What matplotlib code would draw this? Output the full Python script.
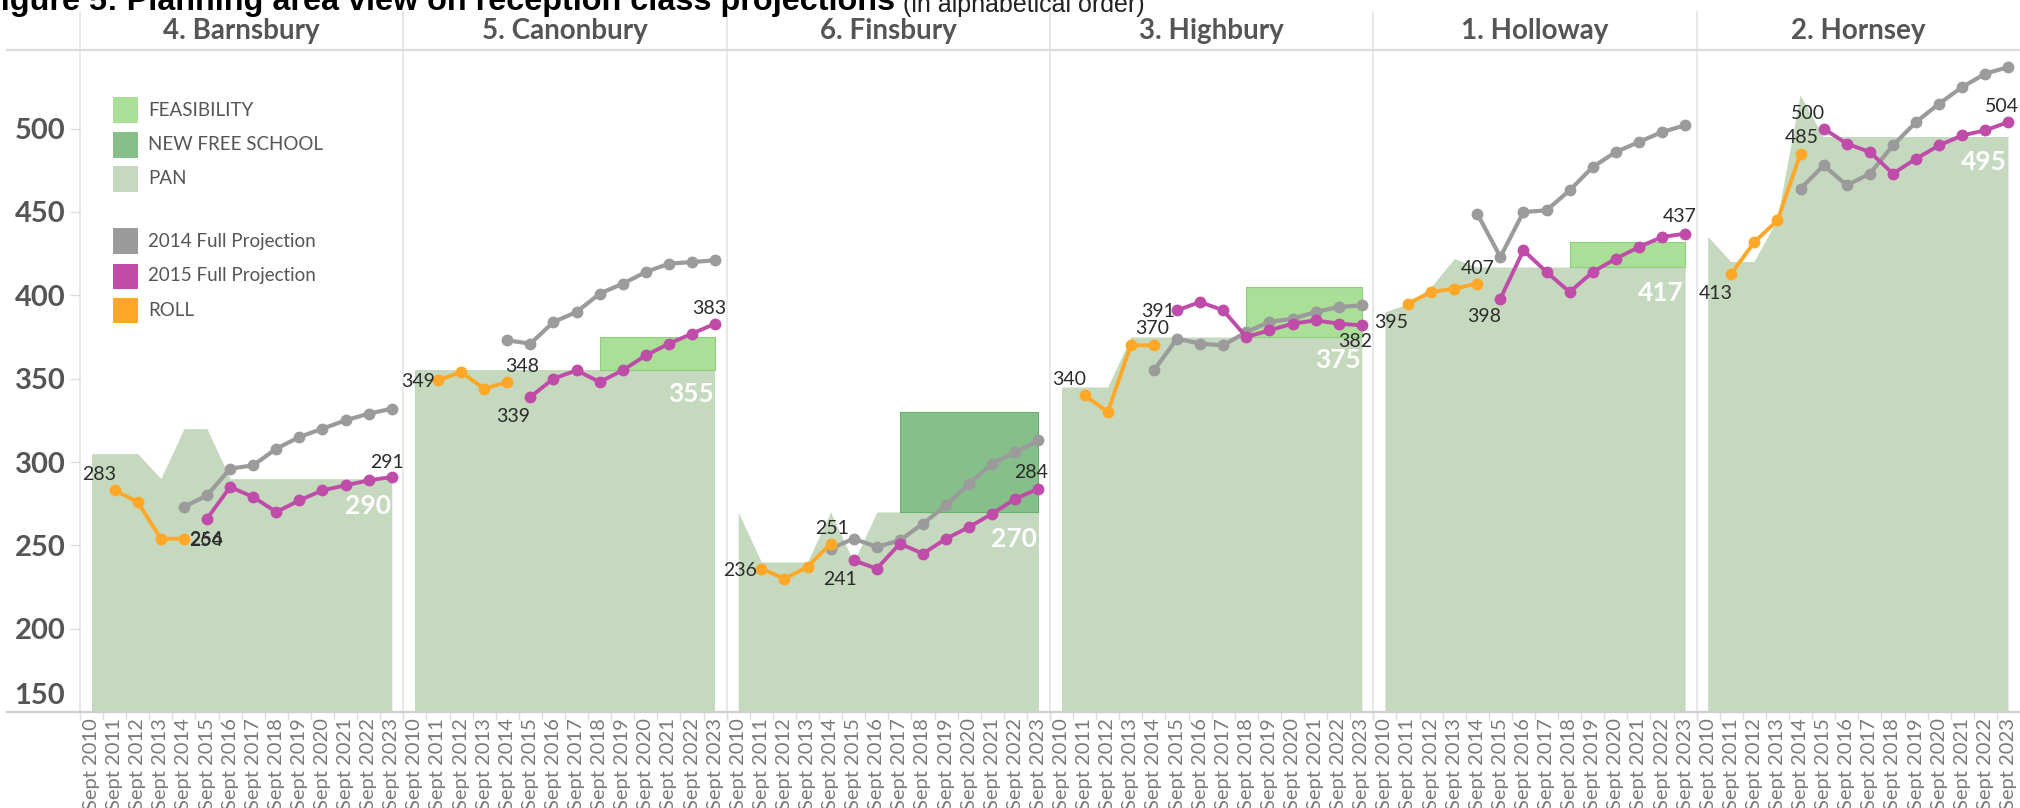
import numpy as np
import matplotlib
matplotlib.use('Agg')
import matplotlib.pyplot as plt
from matplotlib.patches import Rectangle
from matplotlib.lines import Line2D

# ---------------- data ----------------
years = ['Sept 2010', 'Sept 2011', 'Sept 2012', 'Sept 2013', 'Sept 2014', 'Sept 2015', 'Sept 2016',
         'Sept 2017', 'Sept 2018', 'Sept 2019', 'Sept 2020', 'Sept 2021', 'Sept 2022', 'Sept 2023']
panels = ['4. Barnsbury', '5. Canonbury', '6. Finsbury', '3. Highbury', '1. Holloway', '2. Hornsey']
N = None

pan_barnsbury = [305, 305, 305, 290, 320, 320, 290, 290, 290, 290, 290, 290, 290, 290]
roll_barnsbury = [N, 283, 276, 254, 254, N, N, N, N, N, N, N, N, N]
p2014_barnsbury = [N, N, N, N, 273, 280, 296, 298, 308, 315, 320, 325, 329, 332]
p2015_barnsbury = [N, N, N, N, N, 266, 285, 279, 270, 277, 283, 286, 289, 291]
feas_barnsbury = [N] * 14
nfs_barnsbury = [N] * 14

pan_canonbury = [355, 355, 355, 355, 355, 355, 355, 355, 355, 355, 355, 355, 355, 355]
roll_canonbury = [N, 349, 354, 344, 348, N, N, N, N, N, N, N, N, N]
p2014_canonbury = [N, N, N, N, 373, 371, 384, 390, 401, 407, 414, 419, 420, 421]
p2015_canonbury = [N, N, N, N, N, 339, 350, 355, 348, 355, 364, 371, 377, 383]
feas_canonbury = [N, N, N, N, N, N, N, N, 20, 20, 20, 20, 20, 20]
nfs_canonbury = [N] * 14

pan_finsbury = [270, 240, 240, 240, 270, 240, 270, 270, 270, 270, 270, 270, 270, 270]
roll_finsbury = [N, 236, 230, 237, 251, N, N, N, N, N, N, N, N, N]
p2014_finsbury = [N, N, N, N, 248, 254, 249, 253, 263, 274, 287, 299, 306, 313]
p2015_finsbury = [N, N, N, N, N, 241, 236, 251, 245, 254, 261, 269, 278, 284]
feas_finsbury = [N] * 14
nfs_finsbury = [N, N, N, N, N, N, N, 60, 60, 60, 60, 60, 60, 60]

pan_highbury = [345, 345, 345, 375, 375, 375, 375, 375, 375, 375, 375, 375, 375, 375]
roll_highbury = [N, 340, 330, 370, 370, N, N, N, N, N, N, N, N, N]
p2014_highbury = [N, N, N, N, 355, 374, 371, 370, 378, 384, 386, 390, 393, 394]
p2015_highbury = [N, N, N, N, N, 391, 396, 391, 375, 379, 383, 385, 383, 382]
feas_highbury = [N, N, N, N, N, N, N, N, 30, 30, 30, 30, 30, 30]
nfs_highbury = [N] * 14

pan_holloway = [390, 395, 405, 422, 417, 417, 417, 417, 417, 417, 417, 417, 417, 417]
roll_holloway = [N, 395, 402, 404, 407, N, N, N, N, N, N, N, N, N]
p2014_holloway = [N, N, N, N, 449, 423, 450, 451, 463, 477, 486, 492, 498, 502]
p2015_holloway = [N, N, N, N, N, 398, 427, 414, 402, 414, 422, 429, 435, 437]
feas_holloway = [N, N, N, N, N, N, N, N, 15, 15, 15, 15, 15, 15]
nfs_holloway = [N] * 14

pan_hornsey = [435, 420, 420, 445, 520, 495, 495, 495, 495, 495, 495, 495, 495, 495]
roll_hornsey = [N, 413, 432, 445, 485, N, N, N, N, N, N, N, N, N]
p2014_hornsey = [N, N, N, N, 464, 478, 466, 473, 490, 504, 515, 525, 533, 537]
p2015_hornsey = [N, N, N, N, N, 500, 491, 486, 473, 482, 490, 496, 499, 504]
feas_hornsey = [N] * 14
nfs_hornsey = [N] * 14

legend_labels = ['FEASIBILITY', 'NEW FREE SCHOOL', 'PAN', '2014 Full Projection', '2015 Full Projection', 'ROLL']
y_ticks = [200, 250, 300, 350, 400, 450, 500]
title_bold = 'Figure 5: Planning area view on reception class projections'
title_rest = '(in alphabetical order)'

data = {
    '4. Barnsbury': (pan_barnsbury, roll_barnsbury, p2014_barnsbury, p2015_barnsbury, feas_barnsbury, nfs_barnsbury),
    '5. Canonbury': (pan_canonbury, roll_canonbury, p2014_canonbury, p2015_canonbury, feas_canonbury, nfs_canonbury),
    '6. Finsbury': (pan_finsbury, roll_finsbury, p2014_finsbury, p2015_finsbury, feas_finsbury, nfs_finsbury),
    '3. Highbury': (pan_highbury, roll_highbury, p2014_highbury, p2015_highbury, feas_highbury, nfs_highbury),
    '1. Holloway': (pan_holloway, roll_holloway, p2014_holloway, p2015_holloway, feas_holloway, nfs_holloway),
    '2. Hornsey': (pan_hornsey, roll_hornsey, p2014_hornsey, p2015_hornsey, feas_hornsey, nfs_hornsey),
}

# ---------------- layout / style ----------------
label_pos = {
    '4. Barnsbury': {'rf': (-16, 17), 'rl': (22, 0), 'pf': (-1, -19), 'pl': (-5, 16), 'pan': (-1, -25)},
    '5. Canonbury': {'rf': (-20, 0), 'rl': (15, 17), 'pf': (-17, -18), 'pl': (-6, 17), 'pan': (-1, -22)},
    '6. Finsbury': {'rf': (-21, 0), 'rl': (1, 17), 'pf': (-14, -18), 'pl': (-7, 18), 'pan': (-2, -25)},
    '3. Highbury': {'rf': (-16, 17), 'rl': (-2, 18), 'pf': (-19, 0), 'pl': (-7, -15), 'pan': (-1, -21)},
    '1. Holloway': {'rf': (-17, -17), 'rl': (0, 17), 'pf': (-16, -16), 'pl': (-5, 19), 'pan': (-1, -24)},
    '2. Hornsey': {'rf': (-16, -18), 'rl': (1, 18), 'pf': (-16, 17), 'pl': (-7, 17), 'pan': (-2, -23)},
}

C_PAN = '#c5d9be'
C_FEAS = '#a9df97'
C_NFS = '#86bf8a'
C_GRAY = '#9b9b9b'
C_MAG = '#c04ca9'
C_ORA = '#ffa726'
FONT = 'Lato'

W, H = 2020, 808
fig = plt.figure(figsize=(W / 100, H / 100), dpi=100)

ax_left0 = 80
pw = (W - ax_left0) / 6
y_top, y_bot = 50, 712
ymin = 150
ymax = 150 + (y_bot - y_top) / (500 / 300)

x = np.arange(len(years))


def arr(v):
    return np.array(v, dtype=float)


def segments(v):
    v = arr(v)
    return np.where(~np.isnan(v))[0]


for i, name in enumerate(panels):
    left = ax_left0 + i * pw
    ax = fig.add_axes([left / W, (H - y_bot) / H, pw / W, (y_bot - y_top) / H])
    ax.set_xlim(-0.5, len(years) - 0.5)
    ax.set_ylim(ymin, ymax)
    for s in ax.spines.values():
        s.set_visible(False)
    ax.patch.set_alpha(0)
    pan, roll, p14, p15, feas, nfs = data[name]
    pan_a = arr(pan)
    ax.fill_between(x, 0, pan_a, color=C_PAN, lw=0, zorder=1)
    for extra, col, ecol in ((feas, C_FEAS, '#8fcf7c'), (nfs, C_NFS, '#6cad70')):
        idx = segments(extra)
        if len(idx):
            ex = arr(extra)
            ax.fill_between(x[idx], pan_a[idx], pan_a[idx] + ex[idx], color=col, lw=0, zorder=2)
            ax.plot([x[idx][0], x[idx][0], x[idx][-1], x[idx][-1], x[idx][0]],
                    [pan_a[idx][0], pan_a[idx][0] + ex[idx][0], pan_a[idx][-1] + ex[idx][-1],
                     pan_a[idx][-1], pan_a[idx][0]], color=ecol, lw=0.8, zorder=2)
    ax.plot(x, arr(p14), color=C_GRAY, lw=3.0, marker='o', ms=7.5, zorder=3, solid_capstyle='round')
    ax.plot(x, arr(p15), color=C_MAG, lw=2.8, marker='o', ms=7.5, zorder=4, solid_capstyle='round')
    ax.plot(x, arr(roll), color=C_ORA, lw=2.8, marker='o', ms=7.5, zorder=5, solid_capstyle='round')

    lp = label_pos[name]
    lab_kw = dict(textcoords='offset pixels', ha='center', va='center_baseline', fontsize=14,
                  color='#2b2b2b', family=FONT, zorder=7)
    ri = segments(roll)
    pi = segments(p15)
    for key, ser, j in (('rf', roll, ri[0]), ('rl', roll, ri[-1]), ('pf', p15, pi[0]), ('pl', p15, pi[-1])):
        ax.annotate(str(ser[j]), xy=(x[j], ser[j]), xytext=lp[key], **lab_kw)
    ax.annotate(str(pan[-1]), xy=(x[-1], pan[-1]), xytext=lp['pan'], textcoords='offset pixels',
                ha='right', va='center_baseline', fontsize=19, fontweight='bold', color='white',
                family=FONT, zorder=6)

    ax.set_xticks(x)
    ax.set_xticklabels(years, rotation=90, fontsize=14.5, color='#7a7a7a', family=FONT)
    ax.set_xticks(np.arange(-0.5, len(years), 1), minor=True)
    ax.tick_params(axis='x', which='major', length=0, pad=4.5)
    ax.tick_params(axis='x', which='minor', length=6, color='#dedede', width=1)
    if i == 0:
        ax.set_yticks(y_ticks)
        ax.set_yticklabels([str(t) for t in y_ticks], fontsize=21, fontweight='bold', color='#555555', family=FONT)
        ax.tick_params(axis='y', length=7, color='#dddddd', width=1, pad=3.5)
        ax.annotate('150', xy=(0, 150), xycoords=('axes fraction', 'data'), xytext=(-15, 3),
                    textcoords='offset pixels', ha='right', va='bottom', fontsize=21, fontweight='bold',
                    color='#555555', family=FONT)
    else:
        ax.set_yticks([])
    fig.text((left + pw / 2) / W, 1 - 31 / H, name, ha='center', va='center', fontsize=20,
             fontweight='bold', color='#555555', family=FONT)

# separators and rules
for i in range(6):
    xx = (ax_left0 + i * pw) / W
    fig.add_artist(Line2D([xx, xx], [(H - y_bot) / H, 1 - 12 / H], transform=fig.transFigure,
                          color='#e4e4e4', lw=1.2, zorder=0))
fig.add_artist(Line2D([7 / W, 1], [(H - y_bot) / H] * 2, transform=fig.transFigure, color='#cfcfcf', lw=1.6))
fig.add_artist(Line2D([7 / W, 1], [(H - y_top) / H] * 2, transform=fig.transFigure, color='#dcdcdc', lw=1.6))

# legend
leg_cols = [C_FEAS, C_NFS, C_PAN, C_GRAY, C_MAG, C_ORA]
leg_y = [110, 145, 179, 241, 276, 310]
for lab, col, yy in zip(legend_labels, leg_cols, leg_y):
    fig.add_artist(Rectangle((113 / W, (H - yy - 12.5) / H), 25 / W, 25 / H, transform=fig.transFigure,
                             facecolor=col, edgecolor='none'))
    fig.text(148 / W, (H - yy) / H, lab, ha='left', va='center', fontsize=13.5, color='#555555', family=FONT)

# title (cut at the top, as in the reference)
t = fig.text(-19 / W, 1 - 10 / H, title_bold, ha='left', va='baseline', fontsize=23.3, fontweight='bold',
             color='black', family='Liberation Sans')
fig.axes[0].annotate(title_rest, xy=(1, 0), xycoords=t, xytext=(8, 0), textcoords='offset pixels',
                     ha='left', va='bottom', fontsize=18, color='#222222', family='Liberation Sans',
                     annotation_clip=False)

fig.savefig('out.png', dpi=100)
